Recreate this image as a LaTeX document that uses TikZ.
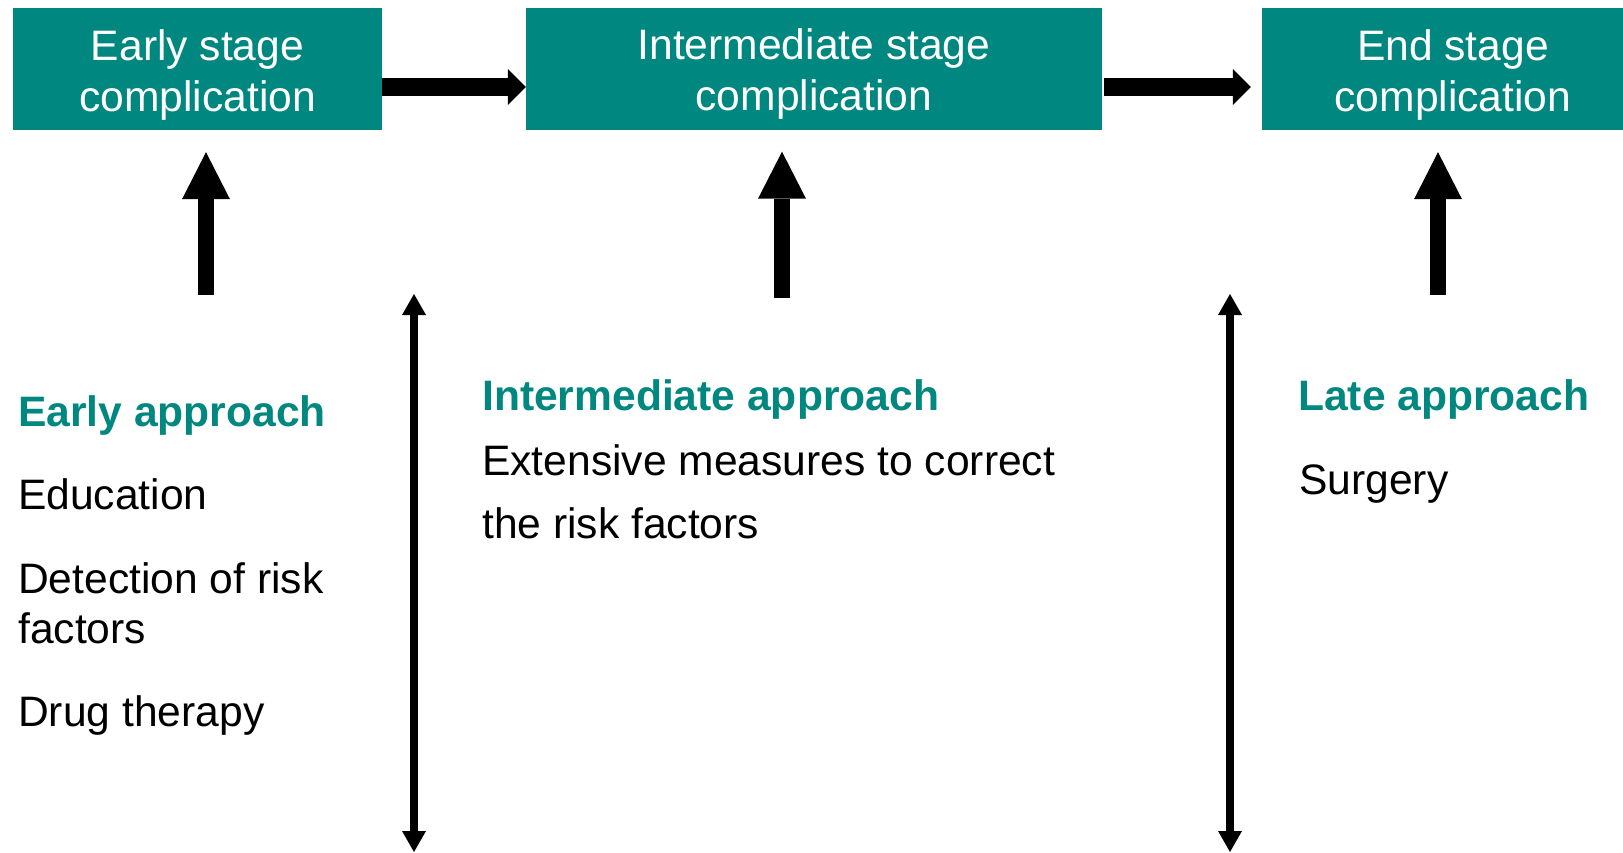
\documentclass[tikz,border=0pt]{standalone}
\usepackage{fontspec}
\setmainfont{Liberation Sans}
\usetikzlibrary{arrows.meta}
\definecolor{stagegreen}{RGB}{0,135,128}

\begin{document}
\begin{tikzpicture}[x=1pt, y=-1pt,
      every node/.append style={inner sep=0pt, font=\fontsize{42.6}{51}\selectfont},
      flow/.style={line width=18pt, -{Triangle[width=36pt,length=18pt,line width=0pt]}},
      lift/.style={line width=16pt, -{Triangle[width=48pt,length=47pt,line width=0pt]}, shorten >=22pt},
      span/.style={line width=8pt, {Triangle[width=24pt,length=21pt,line width=0pt]}-{Triangle[width=24pt,length=21pt,line width=0pt]}}]
    \tikzstyle{stage} = [fill=stagegreen, text=white, align=center, minimum height=122pt]
    \tikzstyle{approach} = [anchor=base west, text=stagegreen, font=\fontsize{42.6}{51}\selectfont\bfseries]
    \tikzstyle{item} = [anchor=base west, align=left, font=\fontsize{42.6}{50}\selectfont]
    \useasboundingbox (0,0) rectangle (1623,852);
    % stages
    \node (early) [stage, minimum width=369pt] at (197.5,69) {\rule{0pt}{1em}Early stage\\complication};
    \node (inter) [stage, minimum width=576pt] at (814,68.5) {\rule{0pt}{1em}Intermediate stage\\complication};
    \node (late) [stage, minimum width=382pt] at (1453,69) {\rule{0pt}{1em}End stage\\complication};
    \coordinate (row) at (0,87);
    \draw[flow] (early.east |- row) -- (inter.west |- row);
    \draw[flow, shorten <=2pt, shorten >=11pt] (inter.east |- row) -- (late.west |- row);
    % approaches
    \coordinate (e0) at (206,295);
    \coordinate (i0) at (782,298);
    \coordinate (l0) at (1438,295);
    \draw[lift] (e0) -- (e0 |- early.south);
    \draw[lift] (i0) -- (i0 |- inter.south);
    \draw[lift] (l0) -- (l0 |- late.south);
    \node (earlyhd) [approach] at (18,426) {Early approach};
    \node (edu) [item] at (18,509) {Education};
    \node (detect) [item] at (18,643) {Detection of risk\\factors};
    \node (drug) [item] at (18,726) {Drug therapy};
    \node (interhd) [approach] at (482,410) {Intermediate approach};
    \node (measures) [item, font=\fontsize{42.6}{63}\selectfont] at (482,538) {Extensive measures to correct\\the risk factors};
    \node (latehd) [approach] at (1298,410) {Late approach};
    \node (surgery) [item] at (1299,494) {Surgery};
    % borders between the columns
    \coordinate (b1top) at (414,294);
    \coordinate (b1bot) at (414,852);
    \coordinate (b2top) at (1230,294);
    \coordinate (b2bot) at (1230,852);
    \draw[span] (b1top) -- (b1bot);
    \draw[span] (b2top) -- (b2bot);
\end{tikzpicture}
\end{document}
